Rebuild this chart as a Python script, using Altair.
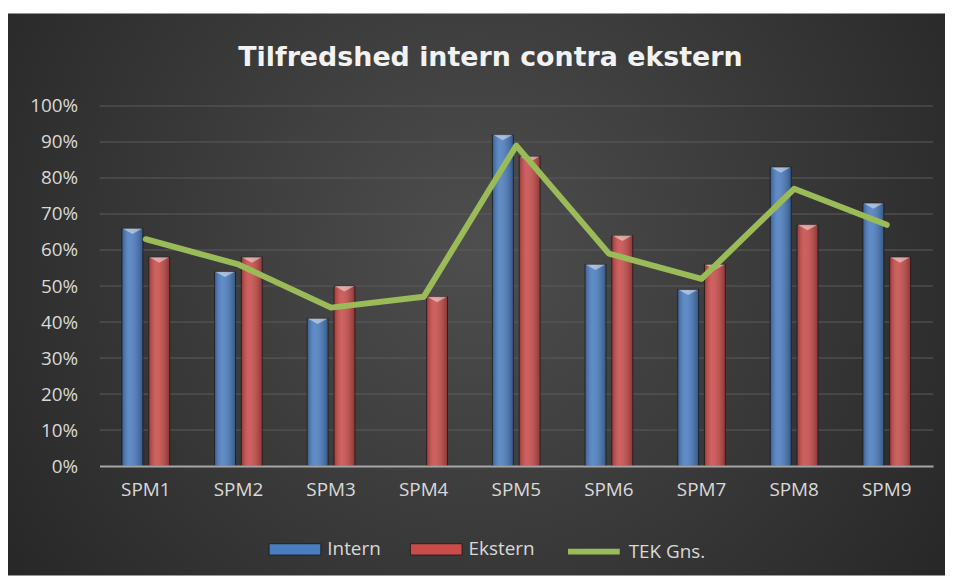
import altair as alt
import pandas as pd

# ---- data ----
categories = ["SPM1", "SPM2", "SPM3", "SPM4", "SPM5", "SPM6", "SPM7", "SPM8", "SPM9"]
intern = [66, 54, 41, None, 92, 56, 49, 83, 73]
ekstern = [58, 58, 50, 47, 86, 64, 56, 67, 58]
tek_gns = [63, 56, 44, 47, 89, 59, 52, 77, 67]
bar_series = ["Intern", "Ekstern"]
line_series = "TEK Gns."
y_ticks = [0, 0.1, 0.2, 0.3, 0.4, 0.5, 0.6, 0.7, 0.8, 0.9, 1.0]

rows = []
for c, i, e in zip(categories, intern, ekstern):
    rows.append({"cat": c, "serie": "Intern", "val": None if i is None else i / 100})
    rows.append({"cat": c, "serie": "Ekstern", "val": e / 100})
bars_df = pd.DataFrame(rows)
line_df = pd.DataFrame({"cat": categories, "serie": line_series,
                        "val": [t / 100 for t in tek_gns]})
grid_df = pd.DataFrame({"val": y_ticks[1:]})

LABEL_FONT = "Open Sans"
LABEL_COLOR = "#d9d9d9"

x_enc = alt.X("cat:N", sort=categories, title=None,
              scale=alt.Scale(paddingInner=0.485, paddingOuter=0.2425),
              axis=alt.Axis(labelAngle=0, labelFont=LABEL_FONT, labelFontSize=19,
                            labelColor=LABEL_COLOR, labelPadding=15, ticks=False,
                            domainColor="#a6a6a6", domainWidth=2, grid=False, zindex=1))
y_enc = alt.Y("val:Q", title=None, scale=alt.Scale(domain=[0, 1]),
              axis=alt.Axis(format=".0%", values=y_ticks, labelFont=LABEL_FONT,
                            labelFontSize=19, labelColor=LABEL_COLOR, labelPadding=22,
                            ticks=False, domain=False, grid=False, zindex=1))
xo_enc = alt.XOffset("serie:N", sort=bar_series,
                     scale=alt.Scale(domain=bar_series, paddingInner=0.22, paddingOuter=0))

bg = alt.Chart(alt.Data(values=[{"k": 0}])).mark_rect(
    fill=alt.RadialGradient(
        gradient="radial", x1=0.5, y1=0.45, r1=0, x2=0.5, y2=0.45, r2=0.75,
        stops=[alt.GradientStop(offset=0, color="#4e4e4e"),
               alt.GradientStop(offset=1, color="#1e1e1e")])
).encode(x=alt.value(-93), x2=alt.value(850), y=alt.value(-93), y2=alt.value(472))

grid = alt.Chart(grid_df).mark_rule(color="#5c5c5c", strokeWidth=1).encode(y=y_enc)

bars = alt.Chart(bars_df).mark_bar(stroke="#151515", strokeWidth=1, strokeOpacity=0.7).encode(
    x=x_enc, xOffset=xo_enc, y=y_enc,
    color=alt.Color("serie:N", sort=bar_series,
                    scale=alt.Scale(domain=bar_series, range=["#4a7dc0", "#c94c4a"]),
                    legend=alt.Legend(orient="none", legendX=170, legendY=419,
                                      direction="horizontal", title=None,
                                      symbolType="M-1,-0.22L1,-0.22L1,0.22L-1,0.22Z",
                                      symbolSize=2704, symbolStrokeColor="#222222",
                                      symbolStrokeWidth=1, labelFont=LABEL_FONT,
                                      labelFontSize=19, labelColor=LABEL_COLOR,
                                      labelOffset=6, columnPadding=27, padding=0,
                                      zindex=1)))

shade = alt.Chart(bars_df).mark_bar(
    fill=alt.LinearGradient(
        gradient="linear", x1=0, x2=1, y1=0, y2=0,
        stops=[alt.GradientStop(offset=0, color="rgba(0,0,0,0.25)"),
               alt.GradientStop(offset=0.35, color="rgba(255,255,255,0.12)"),
               alt.GradientStop(offset=1, color="rgba(0,0,0,0.3)")])
).encode(x=x_enc, xOffset=xo_enc, y=y_enc)

tips = alt.Chart(bars_df).mark_point(
    shape="M-1,0L1,0L0,0.55Z", filled=True, fill="white", opacity=0.45,
    size=400, strokeWidth=0
).encode(x=x_enc, xOffset=xo_enc, y=y_enc)

line = alt.Chart(line_df).mark_line(strokeWidth=6, strokeCap="round", strokeJoin="round").encode(
    x=x_enc, y=y_enc,
    stroke=alt.Stroke("serie:N",
                      scale=alt.Scale(domain=[line_series], range=["#9bbb59"]),
                      legend=alt.Legend(orient="none", legendX=468, legendY=419,
                                        direction="horizontal", title=None,
                                        symbolType="stroke", symbolSize=2704,
                                        symbolStrokeWidth=6, labelFont=LABEL_FONT,
                                        labelFontSize=19, labelColor=LABEL_COLOR,
                                        labelOffset=6, padding=0, zindex=1)))

chart = alt.layer(bg, grid, bars, shade, tips, line).properties(
    width=838, height=362,
    autosize=alt.AutoSizeParams(type="none"),
    padding={"left": 92, "top": 97, "right": 12, "bottom": 110},
    background="white",
    title=alt.TitleParams("Tilfredshed intern contra ekstern", font="DejaVu Sans",
                          fontSize=27, fontWeight="bold", color="#f2f2f2",
                          anchor="middle", dx=-26, offset=-80, baseline="alphabetic",
                          zindex=1),
).configure_view(stroke=None)

chart.save("out.html", embed_options={"renderer": "svg", "actions": False})
